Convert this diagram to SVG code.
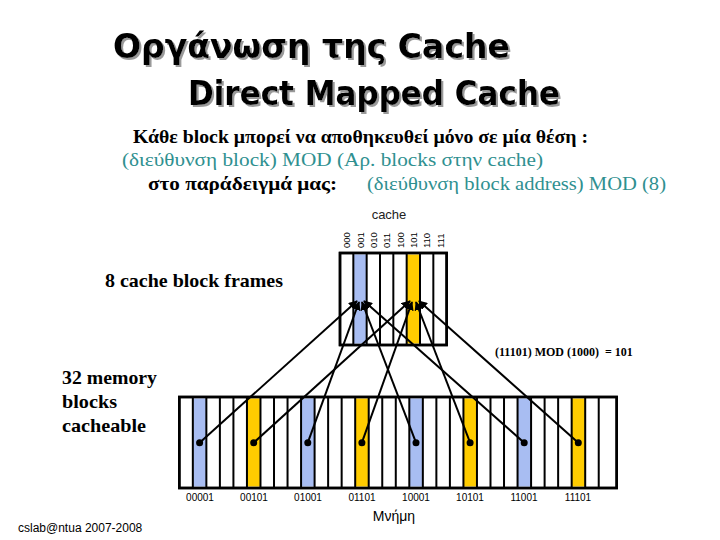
<svg xmlns="http://www.w3.org/2000/svg" width="720" height="540" viewBox="0 0 720 540">
<style>
.title{font-family:"DejaVu Sans",sans-serif;font-weight:bold;font-size:33px;fill:#000;filter:url(#shd)}
.bk{font-family:"Liberation Serif",serif;font-weight:bold;font-size:18px;fill:#000}
.tl{font-family:"Liberation Serif",serif;font-size:18px;fill:#2f9090}
.sm{font-family:"Liberation Sans",sans-serif;font-size:10px;fill:#000}
.lbl{font-family:"Liberation Serif",serif;font-weight:bold;font-size:19px;fill:#000}
.frame{fill:#fff;stroke:#000;stroke-width:2.5}
.div{stroke:#000;stroke-width:2}
.blue{fill:#a8bdf2}
.yel{fill:#ffcc00}
.conn{stroke:#000;stroke-width:2;fill:none}
.dot{fill:#000}
</style>
<defs>
<filter id="shd" x="-5%" y="-20%" width="115%" height="150%">
<feDropShadow dx="2" dy="2" stdDeviation="0.6" flood-color="#9a9a9a" flood-opacity="1"/>
</filter>
<marker id="arr" viewBox="0 0 10 10" refX="9" refY="5" markerWidth="4.5" markerHeight="4.5" orient="auto" markerUnits="strokeWidth">
<path d="M0,0 L10,5 L0,10 z" fill="#000"/>
</marker>
</defs>
<rect width="720" height="540" fill="#fff"/>

<g id="title">
<text class="title" x="113" y="58" textLength="397" lengthAdjust="spacingAndGlyphs">Οργάνωση της Cache</text>
<text class="title" x="188" y="105" textLength="372" lengthAdjust="spacingAndGlyphs">Direct Mapped Cache</text>
</g>

<g id="description" xml:space="preserve">
<text class="bk" x="133" y="143" textLength="455" lengthAdjust="spacingAndGlyphs">Κάθε block μπορεί να αποθηκευθεί μόνο σε μία θέση :</text>
<text class="tl" x="122" y="166" textLength="421" lengthAdjust="spacingAndGlyphs">(διεύθυνση block)  MOD  (Αρ. blocks στην cache)</text>
<text class="bk" x="148" y="190" textLength="189" lengthAdjust="spacingAndGlyphs">στο παράδειγμά μας:</text>
<text class="tl" x="367" y="190" textLength="299" lengthAdjust="spacingAndGlyphs">(διεύθυνση block address)  MOD  (8)</text>
</g>

<g id="cache">
<text x="389" y="219" text-anchor="middle" style="font-family:'Liberation Sans',sans-serif;font-size:13px;fill:#222">cache</text>
<rect class="frame" x="340" y="253" width="106.67" height="92"/>
<rect class="blue" x="353.33" y="254.5" width="13.33" height="89"/>
<rect class="yel" x="406.67" y="254.5" width="13.33" height="89"/>
<g class="div">
<line x1="353.33" y1="253" x2="353.33" y2="345"/>
<line x1="366.67" y1="253" x2="366.67" y2="345"/>
<line x1="380" y1="253" x2="380" y2="345"/>
<line x1="393.33" y1="253" x2="393.33" y2="345"/>
<line x1="406.67" y1="253" x2="406.67" y2="345"/>
<line x1="420" y1="253" x2="420" y2="345"/>
<line x1="433.33" y1="253" x2="433.33" y2="345"/>
</g>
<rect x="340" y="253" width="106.67" height="92" fill="none" stroke="#000" stroke-width="2.5"/>
<g class="sm" style="font-size:9.5px">
<text transform="translate(350.3,248) rotate(-90)">000</text>
<text transform="translate(363.6,248) rotate(-90)">001</text>
<text transform="translate(377,248) rotate(-90)">010</text>
<text transform="translate(390.3,248) rotate(-90)">011</text>
<text transform="translate(403.6,248) rotate(-90)">100</text>
<text transform="translate(417,248) rotate(-90)">101</text>
<text transform="translate(430.3,248) rotate(-90)">110</text>
<text transform="translate(443.6,248) rotate(-90)">111</text>
</g>
</g>

<g id="cache-label">
<text class="lbl" x="105" y="287" textLength="178" lengthAdjust="spacingAndGlyphs">8 cache block frames</text>
</g>

<g id="memory-label">
<text class="lbl" x="62" y="384" textLength="95" lengthAdjust="spacingAndGlyphs">32 memory</text>
<text class="lbl" x="62" y="408" textLength="55" lengthAdjust="spacingAndGlyphs">blocks</text>
<text class="lbl" x="62" y="432" textLength="84" lengthAdjust="spacingAndGlyphs">cacheable</text>
</g>

<g id="memory">
<rect class="frame" x="179.3" y="397" width="437.4" height="91"/>
<rect class="blue" x="192.83" y="398.5" width="13.53" height="88"/>
<rect class="yel" x="246.95" y="398.5" width="13.53" height="88"/>
<rect class="blue" x="301.07" y="398.5" width="13.53" height="88"/>
<rect class="yel" x="355.19" y="398.5" width="13.53" height="88"/>
<rect class="blue" x="409.31" y="398.5" width="13.53" height="88"/>
<rect class="yel" x="463.43" y="398.5" width="13.53" height="88"/>
<rect class="blue" x="517.55" y="398.5" width="13.53" height="88"/>
<rect class="yel" x="571.67" y="398.5" width="13.53" height="88"/>
<path class="div" d="M192.83,397V488 M206.36,397V488 M219.89,397V488 M233.42,397V488 M246.95,397V488 M260.48,397V488 M274.01,397V488 M287.54,397V488 M301.07,397V488 M314.6,397V488 M328.13,397V488 M341.66,397V488 M355.19,397V488 M368.72,397V488 M382.25,397V488 M395.78,397V488 M409.31,397V488 M422.84,397V488 M436.37,397V488 M449.9,397V488 M463.43,397V488 M476.96,397V488 M490.49,397V488 M504.02,397V488 M517.55,397V488 M531.08,397V488 M544.61,397V488 M558.14,397V488 M571.67,397V488 M585.2,397V488 M598.73,397V488"/>
<rect x="179.3" y="397" width="437.4" height="91" fill="none" stroke="#000" stroke-width="2.5"/>
<g class="sm" text-anchor="middle">
<text x="200" y="501">00001</text>
<text x="254" y="501">00101</text>
<text x="308" y="501">01001</text>
<text x="362" y="501">01101</text>
<text x="416" y="501">10001</text>
<text x="470" y="501">10101</text>
<text x="524" y="501">11001</text>
<text x="578" y="501">11101</text>
</g>
<text x="394" y="521" text-anchor="middle" style="font-family:'Liberation Sans',sans-serif;font-size:14px;fill:#000">Μνήμη</text>
</g>

<g id="connectors">
<line class="conn" x1="199.6" y1="442.7" x2="357" y2="301" marker-end="url(#arr)"/>
<line class="conn" x1="307.8" y1="442.7" x2="359" y2="302" marker-end="url(#arr)"/>
<line class="conn" x1="416" y1="442.7" x2="362" y2="302" marker-end="url(#arr)"/>
<line class="conn" x1="524.2" y1="442.7" x2="364" y2="301" marker-end="url(#arr)"/>
<line class="conn" x1="253.7" y1="442.7" x2="410" y2="301" marker-end="url(#arr)"/>
<line class="conn" x1="361.9" y1="442.7" x2="412" y2="302" marker-end="url(#arr)"/>
<line class="conn" x1="470.1" y1="442.7" x2="416" y2="302" marker-end="url(#arr)"/>
<line class="conn" x1="578.3" y1="442.7" x2="419" y2="301" marker-end="url(#arr)"/>
<g class="dot">
<circle cx="199.6" cy="442.7" r="3.5"/>
<circle cx="253.7" cy="442.7" r="3.5"/>
<circle cx="307.8" cy="442.7" r="3.5"/>
<circle cx="361.9" cy="442.7" r="3.5"/>
<circle cx="416" cy="442.7" r="3.5"/>
<circle cx="470.1" cy="442.7" r="3.5"/>
<circle cx="524.2" cy="442.7" r="3.5"/>
<circle cx="578.3" cy="442.7" r="3.5"/>
</g>
</g>

<g id="example">
<text x="495" y="356" style="font-family:'Liberation Serif',serif;font-weight:bold;font-size:12px;fill:#000" xml:space="preserve">(11101) MOD (1000)  = 101</text>
</g>

<g id="footer">
<text x="18" y="532" style="font-family:'Liberation Sans',sans-serif;font-size:12px;fill:#000">cslab@ntua 2007-2008</text>
</g>
</svg>
